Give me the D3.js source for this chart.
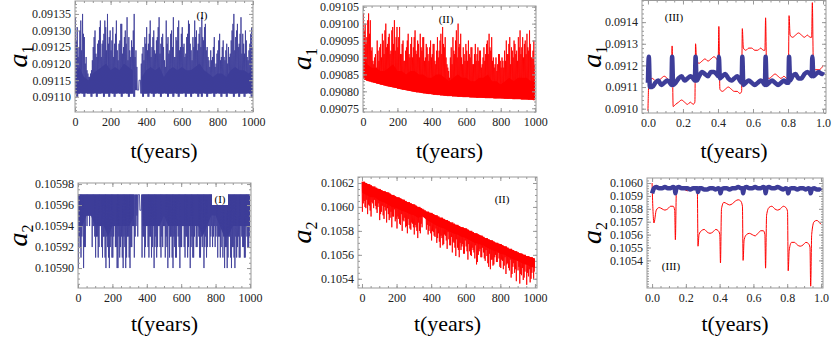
<!DOCTYPE html>
<html>
<head>
<meta charset="utf-8">
<script src="https://cdn.jsdelivr.net/npm/d3@7"></script>
<style>
  body { margin: 0; background: #fff; }
  text { font-family: "Liberation Serif", "Times New Roman", serif; }
</style>
</head>
<body>
<svg id="chart" width="837" height="341"></svg>
<script>
// sample grids (years)
var binYears  = d3.range(0, 1000, 10);
var coreYears = d3.range(0, 1001, 25);

// ---- a1, case (I): oscillation floor, two spike tops per bin, solid band
var a1BaseI = [
  0.09111,0.09110,0.09111,0.09112,0.09111,0.09110,0.09112,0.09111,0.09111,0.09110,
  0.09111,0.09112,0.09110,0.09111,0.09111,0.09112,0.09110,0.09111,0.09111,0.09110,
  0.09112,0.09111,0.09110,0.09111,0.09112,0.09111,0.09110,0.09111,0.09112,0.09111,
  0.09110,0.09111,0.09111,0.09110,0.09112,0.09112,0.09115,0.09111,0.09110,0.09111,
  0.09111,0.09110,0.09112,0.09111,0.09110,0.09111,0.09112,0.09111,0.09110,0.09111,
  0.09112,0.09111,0.09110,0.09111,0.09111,0.09110,0.09112,0.09111,0.09110,0.09111,
  0.09111,0.09112,0.09110,0.09111,0.09111,0.09110,0.09111,0.09112,0.09111,0.09110,
  0.09111,0.09110,0.09112,0.09111,0.09110,0.09111,0.09111,0.09112,0.09110,0.09111,
  0.09112,0.09111,0.09110,0.09111,0.09111,0.09110,0.09112,0.09111,0.09111,0.09110,
  0.09111,0.09112,0.09110,0.09111,0.09111,0.09110,0.09111,0.09112,0.09111,0.09110
];
var a1TipI = [
  0.09134,0.09131,0.09125,0.09133,0.09135,0.09128,0.09122,0.09117,0.09116,0.09118,
  0.09125,0.09130,0.09122,0.09127,0.09133,0.09126,0.09129,0.09131,0.09135,0.09128,
  0.09124,0.09131,0.09126,0.09133,0.09121,0.09127,0.09132,0.09125,0.09130,0.09134,
  0.09128,0.09122,0.09125,0.09135,0.09124,0.09112,0.09115,0.09120,0.09125,0.09128,
  0.09131,0.09126,0.09133,0.09125,0.09130,0.09123,0.09128,0.09134,0.09126,0.09129,
  0.09121,0.09133,0.09128,0.09124,0.09130,0.09134,0.09122,0.09127,0.09133,0.09125,
  0.09131,0.09126,0.09123,0.09129,0.09132,0.09124,0.09128,0.09133,0.09130,0.09126,
  0.09131,0.09134,0.09127,0.09132,0.09125,0.09121,0.09124,0.09122,0.09128,0.09120,
  0.09124,0.09129,0.09122,0.09127,0.09121,0.09126,0.09125,0.09123,0.09130,0.09135,
  0.09128,0.09132,0.09126,0.09134,0.09129,0.09123,0.09127,0.09121,0.09126,0.09131
];
var a1TipBI = [
  0.09127,0.09122,0.09130,0.09124,0.09129,0.09120,0.09118,0.09116,0.09117,0.09121,
  0.09128,0.09123,0.09126,0.09131,0.09122,0.09127,0.09133,0.09124,0.09126,0.09130,
  0.09127,0.09122,0.09129,0.09124,0.09126,0.09132,0.09123,0.09128,0.09126,0.09121,
  0.09124,0.09127,0.09130,0.09122,0.09119,0.09112,0.09115,0.09123,0.09121,0.09126,
  0.09124,0.09129,0.09122,0.09128,0.09124,0.09127,0.09131,0.09123,0.09128,0.09125,
  0.09119,0.09126,0.09123,0.09129,0.09125,0.09122,0.09128,0.09131,0.09124,0.09129,
  0.09125,0.09122,0.09128,0.09133,0.09126,0.09121,0.09125,0.09128,0.09124,0.09129,
  0.09125,0.09128,0.09131,0.09124,0.09122,0.09119,0.09121,0.09125,0.09119,0.09123,
  0.09127,0.09121,0.09125,0.09122,0.09124,0.09120,0.09122,0.09127,0.09132,0.09124,
  0.09130,0.09125,0.09129,0.09123,0.09126,0.09130,0.09122,0.09124,0.09129,0.09125
];
var a1CoreLoI = [
  0.09111,0.09111,0.09111,0.09111,0.09111,0.09111,0.09111,0.09111,0.09111,0.09111,
  0.09111,0.09111,0.09111,0.09111,null,0.09111,0.09111,0.09111,0.09111,0.09111,
  0.09111,0.09111,0.09111,0.09111,0.09111,0.09111,0.09111,0.09111,0.09111,0.09111,
  0.09111,0.09111,0.09111,0.09111,0.09111,0.09111,0.09111,0.09111,0.09111,0.09111,0.09111
];
var a1CoreHiI = [
  0.09117,0.09119,0.09116,0.09115,0.09117,0.09118,0.09119,0.09120,0.09118,0.09119,
  0.09118,0.09120,0.09119,0.09118,null,0.09116,0.09118,0.09119,0.09118,0.09119,
  0.09116,0.09118,0.09119,0.09118,0.09119,0.09118,0.09118,0.09119,0.09120,0.09118,
  0.09117,0.09116,0.09117,0.09117,0.09116,0.09118,0.09119,0.09118,0.09118,0.09117,0.09118
];

// ---- a1, case (II)
var a1BaseII = [
  0.090838,0.090834,0.090832,0.090830,0.090829,0.090827,0.090826,0.090825,0.090823,0.090822,
  0.090820,0.090819,0.090818,0.090817,0.090815,0.090814,0.090813,0.090812,0.090811,0.090810,
  0.090808,0.090807,0.090806,0.090805,0.090804,0.090803,0.090802,0.090801,0.090800,0.090799,
  0.090798,0.090797,0.090797,0.090796,0.090795,0.090794,0.090794,0.090793,0.090792,0.090792,
  0.090791,0.090790,0.090790,0.090789,0.090789,0.090788,0.090788,0.090787,0.090787,0.090786,
  0.090786,0.090786,0.090785,0.090785,0.090785,0.090784,0.090784,0.090784,0.090783,0.090783,
  0.090783,0.090783,0.090782,0.090782,0.090782,0.090782,0.090781,0.090781,0.090781,0.090781,
  0.090781,0.090780,0.090780,0.090780,0.090780,0.090780,0.090779,0.090779,0.090779,0.090779,
  0.090779,0.090779,0.090778,0.090778,0.090778,0.090778,0.090778,0.090777,0.090777,0.090777,
  0.090777,0.090777,0.090776,0.090776,0.090776,0.090776,0.090775,0.090775,0.090775,0.090774
];
var a1TipII = [
  0.09103,0.09100,0.09096,0.09103,0.09101,0.09093,0.09088,0.09091,0.09095,0.09089,
  0.09094,0.09097,0.09091,0.09100,0.09094,0.09097,0.09092,0.09099,0.09101,0.09096,
  0.09093,0.09099,0.09091,0.09095,0.09089,0.09093,0.09097,0.09090,0.09096,0.09093,
  0.09098,0.09091,0.09094,0.09097,0.09092,0.09096,0.09090,0.09093,0.09089,0.09095,
  0.09091,0.09094,0.09088,0.09096,0.09092,0.09097,0.09099,0.09093,0.09090,0.09087,
  0.09084,0.09093,0.09096,0.09091,0.09098,0.09100,0.09094,0.09090,0.09093,0.09089,
  0.09092,0.09095,0.09090,0.09093,0.09088,0.09094,0.09091,0.09089,0.09092,0.09088,
  0.09093,0.09091,0.09095,0.09097,0.09092,0.09089,0.09087,0.09090,0.09088,0.09091,
  0.09087,0.09089,0.09092,0.09095,0.09091,0.09096,0.09093,0.09090,0.09094,0.09092,
  0.09096,0.09098,0.09093,0.09090,0.09095,0.09097,0.09092,0.09094,0.09090,0.09095
];
var a1TipBII = [
  0.09098,0.09094,0.09101,0.09097,0.09092,0.09089,0.09090,0.09087,0.09092,0.09093,
  0.09090,0.09095,0.09098,0.09093,0.09096,0.09091,0.09098,0.09094,0.09092,0.09099,
  0.09096,0.09091,0.09094,0.09089,0.09092,0.09095,0.09091,0.09094,0.09090,0.09096,
  0.09092,0.09095,0.09090,0.09093,0.09096,0.09089,0.09094,0.09091,0.09093,0.09090,
  0.09094,0.09089,0.09092,0.09090,0.09095,0.09091,0.09094,0.09096,0.09088,0.09086,
  0.09090,0.09088,0.09092,0.09095,0.09090,0.09093,0.09097,0.09088,0.09091,0.09094,
  0.09089,0.09091,0.09093,0.09088,0.09091,0.09089,0.09093,0.09092,0.09087,0.09090,
  0.09089,0.09094,0.09091,0.09093,0.09096,0.09090,0.09088,0.09086,0.09091,0.09089,
  0.09090,0.09087,0.09089,0.09091,0.09094,0.09088,0.09092,0.09095,0.09091,0.09089,
  0.09093,0.09091,0.09096,0.09094,0.09091,0.09093,0.09098,0.09090,0.09092,0.09088
];
var a1CoreLoII = [
  0.090838,0.090831,0.090828,0.090824,0.090821,0.090817,0.090815,0.090812,0.090809,0.090806,
  0.090804,0.090802,0.090799,0.090797,0.090795,0.090793,0.090792,0.090790,0.090789,0.090788,
  0.090787,0.090786,0.090785,0.090784,0.090784,0.090783,0.090782,0.090782,0.090781,0.090781,
  0.090780,0.090780,0.090780,0.090779,0.090779,0.090778,0.090778,0.090777,0.090777,0.090776,0.090776
];
var a1CoreHiII = [
  0.09090,0.09088,0.09087,0.09087,0.09086,0.09086,0.09087,0.09088,0.09086,0.09086,
  0.09085,0.09086,0.09086,0.09085,0.09085,0.09084,0.09084,0.09085,0.09085,0.09084,
  0.09083,0.09084,0.09085,0.09084,0.09084,0.09083,0.09083,0.09084,0.09084,0.09085,
  0.09083,0.09083,0.09082,0.09083,0.09084,0.09083,0.09084,0.09084,0.09084,0.09083,0.09083
];

// ---- a2, case (I): the floor is on top, spikes point down
var a2BaseI = [
  0.10597,0.10597,0.10597,0.10597,0.10597,0.10597,0.10597,0.10597,0.10597,0.10597,
  0.10597,0.10597,0.10597,0.10597,0.10597,0.10597,0.10597,0.10597,0.10597,0.10597,
  0.10597,0.10597,0.10597,0.10597,0.10597,0.10597,0.10597,0.10597,0.10597,0.10597,
  0.10597,0.10597,0.10597,0.10597,0.10597,0.10597,0.105955,0.10597,0.10597,0.10597,
  0.10597,0.10597,0.10597,0.10597,0.10597,0.10597,0.10597,0.10597,0.10597,0.10597,
  0.10597,0.10597,0.10597,0.10597,0.10597,0.10597,0.10597,0.10597,0.10597,0.10597,
  0.10597,0.10597,0.10597,0.10597,0.10597,0.10597,0.10597,0.10597,0.10597,0.10597,
  0.10597,0.10597,0.10597,0.10597,0.10597,0.10597,0.10597,0.10597,0.10597,0.10597,
  0.10597,0.10597,0.10597,0.10597,0.10597,0.10597,0.10597,0.10597,0.10597,0.10597,
  0.10597,0.10597,0.10597,0.10597,0.10597,0.10597,0.10597,0.10597,0.10597,0.10597
];
var a2TipI = [
  0.10590,0.10592,0.10593,0.10590,0.10592,0.10594,0.10595,0.10595,0.10592,0.10594,
  0.10591,0.10593,0.10592,0.10594,0.10591,0.10593,0.10590,0.10592,0.10590,0.10593,
  0.10591,0.10594,0.10592,0.10590,0.10591,0.10593,0.10590,0.10592,0.10591,0.10593,
  0.10590,0.10592,0.10594,0.10593,0.10595,0.10597,0.105955,0.10591,0.10593,0.10592,
  0.10594,0.10591,0.10593,0.10592,0.10590,0.10593,0.10592,0.10594,0.10591,0.10592,
  0.10594,0.10593,0.10590,0.10591,0.10593,0.10590,0.10592,0.10591,0.10593,0.10590,
  0.10592,0.10594,0.10591,0.10593,0.10592,0.10590,0.10593,0.10591,0.10594,0.10592,
  0.10593,0.10591,0.10592,0.10590,0.10593,0.10592,0.10594,0.10593,0.10592,0.10594,
  0.10593,0.10591,0.10593,0.10592,0.10591,0.10590,0.10592,0.10591,0.10593,0.10590,
  0.10592,0.10590,0.10591,0.10593,0.10591,0.10593,0.10592,0.10591,0.10593,0.10592
];
var a2TipBI = [
  0.10593,0.10591,0.10594,0.10592,0.10595,0.10595,0.10594,0.10596,0.10594,0.10593,
  0.10593,0.10591,0.10594,0.10592,0.10593,0.10591,0.10593,0.10591,0.10592,0.10591,
  0.10593,0.10592,0.10590,0.10593,0.10592,0.10591,0.10593,0.10590,0.10593,0.10591,
  0.10592,0.10594,0.10591,0.10594,0.10593,0.10597,0.105955,0.10593,0.10591,0.10594,
  0.10592,0.10593,0.10591,0.10594,0.10592,0.10591,0.10594,0.10592,0.10593,0.10594,
  0.10591,0.10592,0.10594,0.10593,0.10591,0.10593,0.10591,0.10594,0.10592,0.10592,
  0.10594,0.10592,0.10593,0.10591,0.10594,0.10592,0.10591,0.10593,0.10592,0.10594,
  0.10591,0.10593,0.10594,0.10592,0.10591,0.10594,0.10592,0.10594,0.10593,0.10592,
  0.10594,0.10593,0.10591,0.10594,0.10593,0.10592,0.10590,0.10593,0.10591,0.10592,
  0.10591,0.10593,0.10592,0.10591,0.10594,0.10592,0.10591,0.10594,0.10592,0.10593
];
var a2CoreLoI = [
  0.10594,0.10594,0.10595,0.10595,0.10594,0.10594,0.10594,0.10593,0.10594,0.10594,
  0.10594,0.10594,0.10594,0.10595,null,0.10594,0.10594,0.10594,0.10594,0.10594,
  0.10595,0.10594,0.10594,0.10594,0.10594,0.10594,0.10594,0.10594,0.10594,0.10593,
  0.10594,0.10595,0.10595,0.10594,0.10593,0.10593,0.10594,0.10594,0.10594,0.10594,0.10594
];
var a2CoreHiI = [
  0.10597,0.10597,0.10597,0.10597,0.10597,0.10597,0.10597,0.10597,0.10597,0.10597,
  0.10597,0.10597,0.10597,0.10597,null,0.10597,0.10597,0.10597,0.10597,0.10597,
  0.10597,0.10597,0.10597,0.10597,0.10597,0.10597,0.10597,0.10597,0.10597,0.10597,
  0.10597,0.10597,0.10597,0.10597,0.10597,0.10597,0.10597,0.10597,0.10597,0.10597,0.10597
];

// ---- a2, case (II)
var a2BaseII = [
  0.10621,0.10621,0.10620,0.10619,0.10619,0.10618,0.10617,0.10617,0.10616,0.10615,
  0.10615,0.10614,0.10613,0.10613,0.10612,0.10612,0.10611,0.10610,0.10610,0.10609,
  0.10608,0.10608,0.10607,0.10606,0.10606,0.10605,0.10604,0.10604,0.10603,0.10602,
  0.10602,0.10601,0.10600,0.10600,0.10599,0.10598,0.10597,0.10596,0.10596,0.10595,
  0.10595,0.10594,0.10593,0.10593,0.10592,0.10591,0.10591,0.10590,0.10589,0.10589,
  0.10588,0.10587,0.10587,0.10586,0.10585,0.10585,0.10584,0.10583,0.10583,0.10582,
  0.10582,0.10581,0.10580,0.10580,0.10579,0.10578,0.10578,0.10577,0.10576,0.10576,
  0.10575,0.10574,0.10574,0.10573,0.10572,0.10572,0.10571,0.10570,0.10570,0.10569,
  0.10569,0.10568,0.10567,0.10567,0.10566,0.10565,0.10565,0.10564,0.10563,0.10563,
  0.10562,0.10561,0.10561,0.10560,0.10560,0.10559,0.10559,0.10558,0.10558,0.10557
];
var a2TipII = [
  0.10596,0.10605,0.10599,0.10594,0.10601,0.10592,0.10603,0.10606,0.10598,0.10600,
  0.10589,0.10596,0.10593,0.10600,0.10587,0.10594,0.10591,0.10583,0.10592,0.10588,
  0.10582,0.10590,0.10585,0.10580,0.10588,0.10583,0.10578,0.10585,0.10581,0.10586,
  0.10577,0.10583,0.10574,0.10580,0.10586,0.10598,0.10597,0.10581,0.10577,0.10584,
  0.10572,0.10579,0.10575,0.10570,0.10578,0.10566,0.10574,0.10569,0.10576,0.10565,
  0.10573,0.10568,0.10562,0.10570,0.10559,0.10566,0.10558,0.10564,0.10569,0.10561,
  0.10567,0.10556,0.10563,0.10559,0.10564,0.10557,0.10552,0.10560,0.10565,0.10558,
  0.10562,0.10555,0.10559,0.10550,0.10548,0.10556,0.10552,0.10560,0.10554,0.10557,
  0.10549,0.10555,0.10551,0.10544,0.10553,0.10547,0.10541,0.10550,0.10545,0.10538,
  0.10547,0.10536,0.10543,0.10539,0.10546,0.10535,0.10542,0.10537,0.10545,0.10540
];
var a2TipBII = [
  0.10603,0.10600,0.10606,0.10602,0.10597,0.10604,0.10599,0.10601,0.10595,0.10603,
  0.10594,0.10601,0.10590,0.10597,0.10599,0.10589,0.10596,0.10592,0.10598,0.10590,
  0.10592,0.10586,0.10594,0.10589,0.10591,0.10584,0.10590,0.10582,0.10587,0.10583,
  0.10585,0.10580,0.10587,0.10578,0.10583,0.10598,0.10597,0.10585,0.10580,0.10578,
  0.10580,0.10576,0.10582,0.10574,0.10571,0.10576,0.10568,0.10577,0.10572,0.10579,
  0.10568,0.10575,0.10571,0.10566,0.10573,0.10564,0.10570,0.10567,0.10561,0.10572,
  0.10563,0.10569,0.10560,0.10566,0.10562,0.10568,0.10554,0.10563,0.10558,0.10566,
  0.10557,0.10564,0.10553,0.10561,0.10556,0.10551,0.10558,0.10554,0.10562,0.10550,
  0.10556,0.10548,0.10558,0.10552,0.10549,0.10556,0.10544,0.10553,0.10548,0.10555,
  0.10550,0.10544,0.10549,0.10541,0.10552,0.10545,0.10548,0.10540,0.10550,0.10546
];
var a2CoreLoII = [
  0.10612,0.10610,0.10608,0.10608,0.10605,0.10604,0.10602,0.10600,0.10599,0.10597,
  0.10596,0.10594,0.10593,0.10591,0.10592,0.10589,0.10587,0.10585,0.10583,0.10582,
  0.10580,0.10578,0.10577,0.10575,0.10574,0.10572,0.10570,0.10569,0.10568,0.10566,
  0.10564,0.10563,0.10561,0.10560,0.10558,0.10556,0.10555,0.10553,0.10552,0.10550,0.10549
];
var a2CoreHiII = [
  0.10621,0.10620,0.10618,0.10616,0.10615,0.10613,0.10612,0.10610,0.10608,0.10607,
  0.10605,0.10603,0.10602,0.10600,0.10598,0.10596,0.10595,0.10593,0.10591,0.10590,
  0.10588,0.10586,0.10585,0.10583,0.10582,0.10580,0.10578,0.10577,0.10575,0.10573,
  0.10572,0.10570,0.10569,0.10567,0.10565,0.10564,0.10562,0.10561,0.10559,0.10558,0.10557
];

// ---- case (III): first year, shared time grid
var orbitTimes = [
  0.000,0.005,0.011,0.025,0.042,0.059,0.076,0.093,0.110,0.125,
  0.134,0.138,0.144,0.158,0.175,0.192,0.209,0.226,0.243,0.258,
  0.268,0.272,0.278,0.292,0.309,0.326,0.343,0.360,0.377,0.392,
  0.401,0.405,0.411,0.425,0.442,0.459,0.476,0.493,0.510,0.525,
  0.535,0.539,0.545,0.559,0.576,0.593,0.610,0.627,0.644,0.659,
  0.668,0.672,0.678,0.692,0.709,0.726,0.743,0.760,0.777,0.792,
  0.802,0.806,0.812,0.826,0.843,0.860,0.877,0.894,0.911,0.926,
  0.935,0.939,0.945,0.959,0.976,0.993,1.000
];
var a1BlueIII = [
  0.09112,0.09124,0.09110,0.09110,0.09112,0.09113,0.09111,0.09112,0.09113,0.09112,
  0.09111,0.09124,0.09111,0.09112,0.09114,0.09115,0.09113,0.09114,0.09115,0.09114,
  0.09113,0.09124,0.09113,0.09115,0.09117,0.09116,0.09115,0.09117,0.09117,0.09116,
  0.09115,0.09124,0.09114,0.09115,0.09116,0.09114,0.09113,0.09114,0.09115,0.09113,
  0.09112,0.09124,0.09111,0.09112,0.09113,0.09112,0.09111,0.09112,0.09113,0.09112,
  0.09111,0.09124,0.09111,0.09112,0.09113,0.09112,0.09111,0.09112,0.09113,0.09112,
  0.09112,0.09124,0.09113,0.09115,0.09116,0.09114,0.09114,0.09116,0.09117,0.09116,
  0.09115,0.09124,0.09115,0.09116,0.09117,0.09116,0.09117
];
var a1RedIII = [
  0.09099,0.09112,0.09113,0.09114,0.09113,0.09113,0.09114,0.09115,0.09114,0.09113,
  0.09114,0.09129,0.09101,0.09102,0.09103,0.09104,0.09103,0.09102,0.09103,0.09102,
  0.09103,0.09130,0.09122,0.09121,0.09122,0.09123,0.09122,0.09123,0.09124,0.09123,
  0.09122,0.09138,0.09109,0.09108,0.09109,0.09110,0.09109,0.09108,0.09108,0.09107,
  0.09108,0.09137,0.09128,0.09127,0.09128,0.09128,0.09127,0.09127,0.09128,0.09127,
  0.09127,0.09142,0.09115,0.09114,0.09115,0.09116,0.09115,0.09114,0.09115,0.09114,
  0.09114,0.09143,0.09134,0.09133,0.09134,0.09135,0.09134,0.09133,0.09134,0.09133,
  0.09133,0.09149,0.09119,0.09118,0.09118,0.09119,0.09120
];
var a2BlueIII = [
  0.10592,0.10594,0.10596,0.10597,0.10596,0.10596,0.10597,0.10596,0.10596,0.10597,
  0.10596,0.10592,0.10596,0.10597,0.10596,0.10596,0.10596,0.10595,0.10596,0.10596,
  0.10596,0.10593,0.10596,0.10596,0.10595,0.10595,0.10596,0.10596,0.10595,0.10596,
  0.10595,0.10592,0.10595,0.10596,0.10596,0.10595,0.10596,0.10596,0.10597,0.10596,
  0.10596,0.10592,0.10596,0.10597,0.10596,0.10596,0.10597,0.10596,0.10596,0.10597,
  0.10596,0.10592,0.10596,0.10597,0.10596,0.10596,0.10597,0.10596,0.10595,0.10596,
  0.10595,0.10592,0.10595,0.10596,0.10596,0.10595,0.10596,0.10596,0.10595,0.10596,
  0.10595,0.10592,0.10595,0.10596,0.10595,0.10595,0.10594
];
var a2RedIII = [
  0.10600,0.10580,0.10569,0.10579,0.10581,0.10580,0.10579,0.10580,0.10582,0.10582,
  0.10579,0.10556,0.10594,0.10597,0.10596,0.10595,0.10594,0.10595,0.10596,0.10596,
  0.10594,0.10551,0.10560,0.10563,0.10564,0.10562,0.10561,0.10562,0.10564,0.10563,
  0.10560,0.10538,0.10580,0.10585,0.10584,0.10583,0.10584,0.10586,0.10587,0.10586,
  0.10582,0.10540,0.10556,0.10560,0.10561,0.10560,0.10559,0.10561,0.10563,0.10563,
  0.10560,0.10534,0.10575,0.10581,0.10582,0.10580,0.10579,0.10580,0.10582,0.10581,
  0.10578,0.10532,0.10548,0.10554,0.10554,0.10552,0.10551,0.10552,0.10554,0.10553,
  0.10550,0.10520,0.10560,0.10570,0.10571,0.10569,0.10568
];

// tick values
var yearTicks  = [0, 200, 400, 600, 800, 1000];
var phaseTicks = [0, 0.2, 0.4, 0.6, 0.8, 1.0];
var a1TicksI   = [0.09110, 0.09115, 0.09120, 0.09125, 0.09130, 0.09135];
var a1TicksII  = [0.09075, 0.09080, 0.09085, 0.09090, 0.09095, 0.09100, 0.09105];
var a1TicksIII = [0.0910, 0.0911, 0.0912, 0.0913, 0.0914];
var a2TicksI   = [0.10590, 0.10592, 0.10594, 0.10596, 0.10598];
var a2TicksII  = [0.1054, 0.1056, 0.1058, 0.1060, 0.1062];
var a2TicksIII = [0.1054, 0.1055, 0.1056, 0.1057, 0.1058, 0.1059, 0.1060];

var BLUE = "#3d3d99", RED = "#ff0000", FRAME = "#999";

var svg = d3.select("#chart");
var clipId = 0;

function panel(o) {
    var x = d3.scaleLinear().domain(o.xDomain).range([o.left, o.right]);
    var y = d3.scaleLinear().domain(o.yDomain).range([o.bottom, o.top]);
    var g = svg.append("g");

    var id = "clip" + (clipId++);
    g.append("clipPath").attr("id", id).append("rect")
        .attr("x", o.left).attr("y", o.top)
        .attr("width", o.right - o.left).attr("height", o.bottom - o.top);
    var plot = g.append("g").attr("clip-path", "url(#" + id + ")");

    // minor ticks inside the frame
    var xMinor = d3.range(Math.ceil(o.xDomain[0] / o.xMinor - 1e-6), Math.floor(o.xDomain[1] / o.xMinor + 1e-6) + 1)
        .map(function(k){ return k * o.xMinor; });
    var yMinor = d3.range(Math.ceil(o.yDomain[0] / o.yMinor - 1e-6), Math.floor(o.yDomain[1] / o.yMinor + 1e-6) + 1)
        .map(function(k){ return k * o.yMinor; });

    function addAxis(axis, tx, ty, labels) {
        var a = g.append("g").attr("transform", "translate(" + tx + "," + ty + ")").call(axis);
        a.select(".domain").remove();
        a.selectAll("line").attr("stroke", FRAME);
        a.selectAll("text").attr("fill", "#222").style("font-size", "12px")
            .style("font-family", '"Liberation Serif", serif');
        if (!labels) a.selectAll("text").remove();
        return a;
    }
    var none = function(){ return ""; };
    addAxis(d3.axisBottom(x).tickValues(o.xTicks).tickSize(-4).tickPadding(5).tickFormat(d3.format(o.xFormat)), 0, o.bottom, true);
    addAxis(d3.axisBottom(x).tickValues(xMinor).tickSize(-2).tickFormat(none), 0, o.bottom, false);
    addAxis(d3.axisTop(x).tickValues(o.xTicks).tickSize(-4).tickFormat(none), 0, o.top, false);
    addAxis(d3.axisTop(x).tickValues(xMinor).tickSize(-2).tickFormat(none), 0, o.top, false);
    addAxis(d3.axisLeft(y).tickValues(o.yTicks).tickSize(-4).tickPadding(4).tickFormat(d3.format(o.yFormat)), o.left, 0, true);
    addAxis(d3.axisLeft(y).tickValues(yMinor).tickSize(-2).tickFormat(none), o.left, 0, false);
    addAxis(d3.axisRight(y).tickValues(o.yTicks).tickSize(-4).tickFormat(none), o.right, 0, false);
    addAxis(d3.axisRight(y).tickValues(yMinor).tickSize(-2).tickFormat(none), o.right, 0, false);

    g.append("rect")
        .attr("x", o.left).attr("y", o.top)
        .attr("width", o.right - o.left).attr("height", o.bottom - o.top)
        .attr("fill", "none").attr("stroke", FRAME).attr("stroke-width", 1);

    // axis titles
    var yl = g.append("text")
        .attr("transform", "translate(" + o.yLabelX + "," + ((o.top + o.bottom) / 2) + ") rotate(-90)")
        .attr("text-anchor", "middle")
        .style("font-size", "28px").style("font-style", "italic")
        .text("a");
    yl.append("tspan").attr("dy", 6).style("font-size", "16px").style("font-style", "normal").text(o.sub);

    g.append("text")
        .attr("x", (o.left + o.right) / 2).attr("y", o.xLabelY)
        .attr("text-anchor", "middle").style("font-size", "22px")
        .text("t(years)");

    return { g: g, plot: plot, x: x, y: y };
}

function drawOscillation(p, base, tipA, tipB, coreLo, coreHi, color) {
    var band = coreYears.map(function(t, i){ return [t, coreLo[i], coreHi[i]]; });
    p.plot.append("path")
        .datum(band)
        .attr("d", d3.area()
            .defined(function(d){ return d[1] != null; })
            .x(function(d){ return p.x(d[0]); })
            .y0(function(d){ return p.y(d[1]); })
            .y1(function(d){ return p.y(d[2]); }))
        .attr("fill", color);

    // each bin: floor -> tip A -> floor -> tip B
    var pts = [];
    binYears.forEach(function(t, i){
        pts.push([t, base[i]]);
        pts.push([t + 2.5, tipA[i]]);
        pts.push([t + 5, base[i]]);
        pts.push([t + 7.5, tipB[i]]);
    });
    p.plot.append("path")
        .datum(pts)
        .attr("d", d3.line().x(function(d){ return p.x(d[0]); }).y(function(d){ return p.y(d[1]); }))
        .attr("fill", "none").attr("stroke", color).attr("stroke-width", 1)
        .attr("stroke-opacity", 0.85);
}

function drawOrbit(p, values, color, width) {
    p.plot.append("path")
        .datum(orbitTimes.map(function(t, i){ return [t, values[i]]; }))
        .attr("d", d3.line().curve(d3.curveMonotoneX)
            .x(function(d){ return p.x(d[0]); }).y(function(d){ return p.y(d[1]); }))
        .attr("fill", "none").attr("stroke", color).attr("stroke-width", width)
        .attr("stroke-linejoin", "round");
}

function tag(p, txt, cx, cy, boxed) {
    if (boxed) {
        p.g.append("rect").attr("x", cx - 8).attr("y", cy - 7).attr("width", 16).attr("height", 13).attr("fill", "#fff");
    }
    p.g.append("text").attr("x", cx).attr("y", cy + 4).attr("text-anchor", "middle")
        .style("font-size", "11px").text(txt);
}

var yearAxis  = { xTicks: yearTicks,  xMinor: 50,   xFormat: "d" };
var phaseAxis = { xTicks: phaseTicks, xMinor: 0.05, xFormat: ".1f" };

var p1 = panel(Object.assign({}, yearAxis, {
    left: 75, right: 253, top: 1, bottom: 112, xDomain: [0, 1000],
    yDomain: [0.091054, 0.091389], yTicks: a1TicksI, yMinor: 0.00001, yFormat: ".5f",
    sub: "1", yLabelX: 27, xLabelY: 158 }));
drawOscillation(p1, a1BaseI, a1TipI, a1TipBI, a1CoreLoI, a1CoreHiI, BLUE);
tag(p1, "(I)", 202, 15, false);

var p2 = panel(Object.assign({}, yearAxis, {
    left: 363, right: 536, top: 6, bottom: 112, xDomain: [0, 1005],
    yDomain: [0.090739, 0.091052], yTicks: a1TicksII, yMinor: 0.00001, yFormat: ".5f",
    sub: "1", yLabelX: 311, xLabelY: 158 }));
drawOscillation(p2, a1BaseII, a1TipII, a1TipBII, a1CoreLoII, a1CoreHiII, RED);
tag(p2, "(II)", 446, 19, false);

var p3 = panel(Object.assign({}, phaseAxis, {
    left: 642, right: 826, top: 0.5, bottom: 113, xDomain: [-0.034, 1.017],
    yDomain: [0.09098, 0.09150], yTicks: a1TicksIII, yMinor: 0.00002, yFormat: ".4f",
    sub: "1", yLabelX: 601, xLabelY: 158 }));
drawOrbit(p3, a1RedIII, RED, 1);
drawOrbit(p3, a1BlueIII, BLUE, 4.5);
tag(p3, "(III)", 674, 17, false);

var p4 = panel(Object.assign({}, yearAxis, {
    left: 78, right: 251, top: 183, bottom: 288, xDomain: [0, 1006],
    yDomain: [0.105881, 0.105981], yTicks: a2TicksI, yMinor: 0.000005, yFormat: ".5f",
    sub: "2", yLabelX: 27, xLabelY: 331 }));
drawOscillation(p4, a2BaseI, a2TipI, a2TipBI, a2CoreLoI, a2CoreHiI, BLUE);
tag(p4, "(I)", 220, 199, true);

var p5 = panel(Object.assign({}, yearAxis, {
    left: 358, right: 537, top: 177, bottom: 288, xDomain: [-23, 1012],
    yDomain: [0.105323, 0.10625], yTicks: a2TicksII, yMinor: 0.00005, yFormat: ".4f",
    sub: "2", yLabelX: 311, xLabelY: 331 }));
drawOscillation(p5, a2BaseII, a2TipII, a2TipBII, a2CoreLoII, a2CoreHiII, RED);
tag(p5, "(II)", 502, 199, false);

var p6 = panel(Object.assign({}, phaseAxis, {
    left: 647, right: 823, top: 178, bottom: 288, xDomain: [-0.03, 1.012],
    yDomain: [0.105186, 0.106039], yTicks: a2TicksIII, yMinor: 0.00002, yFormat: ".4f",
    sub: "2", yLabelX: 601, xLabelY: 331 }));
drawOrbit(p6, a2RedIII, RED, 1);
drawOrbit(p6, a2BlueIII, BLUE, 4.5);
tag(p6, "(III)", 671, 266, false);
</script>
</body>
</html>
